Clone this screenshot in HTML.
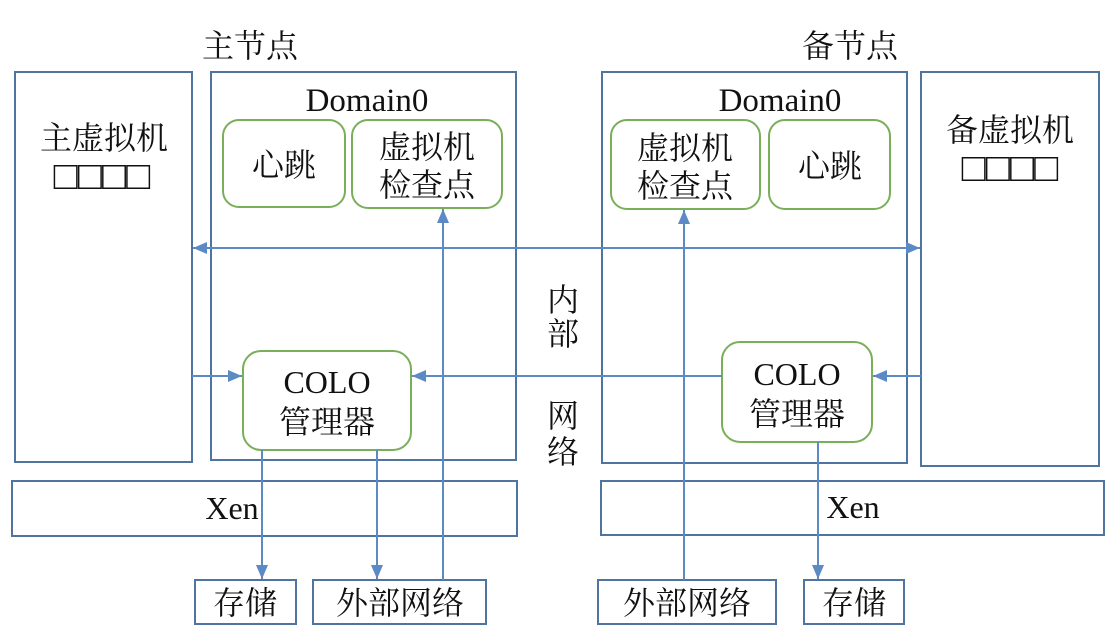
<!DOCTYPE html>
<html><head><meta charset="utf-8"><style>
html,body{margin:0;padding:0;background:#fff}
svg text{font-family:"Liberation Serif","Noto Serif CJK SC",serif;fill:#111;text-anchor:middle}
</style></head><body>
<svg width="1118" height="636" viewBox="0 0 1118 636" xmlns="http://www.w3.org/2000/svg">
<defs>
<marker id="a" viewBox="0 0 14 12" refX="14" refY="6" markerWidth="14" markerHeight="12" markerUnits="userSpaceOnUse" orient="auto-start-reverse">
<path d="M0,0 L14,6 L0,12 z" fill="#5b8ac4"/></marker>
</defs>
<g fill="none" stroke="#4f74a0" stroke-width="2">
<rect x="15" y="72" width="177" height="390"/>
<rect x="211" y="72" width="305" height="388"/>
<rect x="12" y="481" width="505" height="55"/>
<rect x="195" y="580" width="101" height="44"/>
<rect x="313" y="580" width="173" height="44"/>
<rect x="602" y="72" width="305" height="391"/>
<rect x="921" y="72" width="178" height="394"/>
<rect x="601" y="481" width="503" height="54"/>
<rect x="598" y="580" width="178" height="44"/>
<rect x="804" y="580" width="100" height="44"/>
</g>
<g fill="#fff" stroke="#7aaf5a" stroke-width="2">
<rect x="223" y="120" width="122" height="87" rx="16"/>
<rect x="352" y="120" width="150" height="88" rx="16"/>
<rect x="243" y="351" width="168" height="99" rx="18"/>
<rect x="611" y="120" width="149" height="89" rx="16"/>
<rect x="769" y="120" width="121" height="89" rx="16"/>
<rect x="722" y="342" width="150" height="100" rx="18"/>
</g>
<g stroke="#5b8ac4" stroke-width="2" fill="none">
<line x1="193" y1="248" x2="920" y2="248" marker-start="url(#a)" marker-end="url(#a)"/>
<line x1="192" y1="376" x2="242" y2="376" marker-end="url(#a)"/>
<line x1="722" y1="376" x2="412" y2="376" marker-end="url(#a)"/>
<line x1="921" y1="376" x2="873" y2="376" marker-end="url(#a)"/>
<line x1="262" y1="450" x2="262" y2="579" marker-end="url(#a)"/>
<line x1="377" y1="450" x2="377" y2="579" marker-end="url(#a)"/>
<line x1="443" y1="580" x2="443" y2="209" marker-end="url(#a)"/>
<line x1="684" y1="580" x2="684" y2="210" marker-end="url(#a)"/>
<line x1="818" y1="442" x2="818" y2="579" marker-end="url(#a)"/>
</g>
<g font-size="32">
<text x="250" y="57">主节点</text>
<text x="850" y="57">备节点</text>
<text x="367" y="111" font-size="33">Domain0</text>
<text x="780" y="111" font-size="33">Domain0</text>
<text x="104" y="149">主虚拟机</text>
<text x="102" y="189" font-size="40">□□□□</text>
<text x="1010" y="141">备虚拟机</text>
<text x="1010" y="181" font-size="40">□□□□</text>
<text x="284" y="176">心跳</text>
<text x="427" y="158">虚拟机</text>
<text x="427" y="196">检查点</text>
<text x="685" y="159">虚拟机</text>
<text x="685" y="197">检查点</text>
<text x="830" y="177">心跳</text>
<text x="327" y="393">COLO</text>
<text x="327" y="433">管理器</text>
<text x="797" y="385">COLO</text>
<text x="797" y="425">管理器</text>
<text x="232" y="519">Xen</text>
<text x="853" y="518">Xen</text>
<text x="245" y="614">存储</text>
<text x="400" y="614">外部网络</text>
<text x="687" y="614">外部网络</text>
<text x="854" y="614">存储</text>
<text x="563" y="311">内</text>
<text x="563" y="345">部</text>
<text x="563" y="427">网</text>
<text x="563" y="463">络</text>
</g>
</svg>
</body></html>
